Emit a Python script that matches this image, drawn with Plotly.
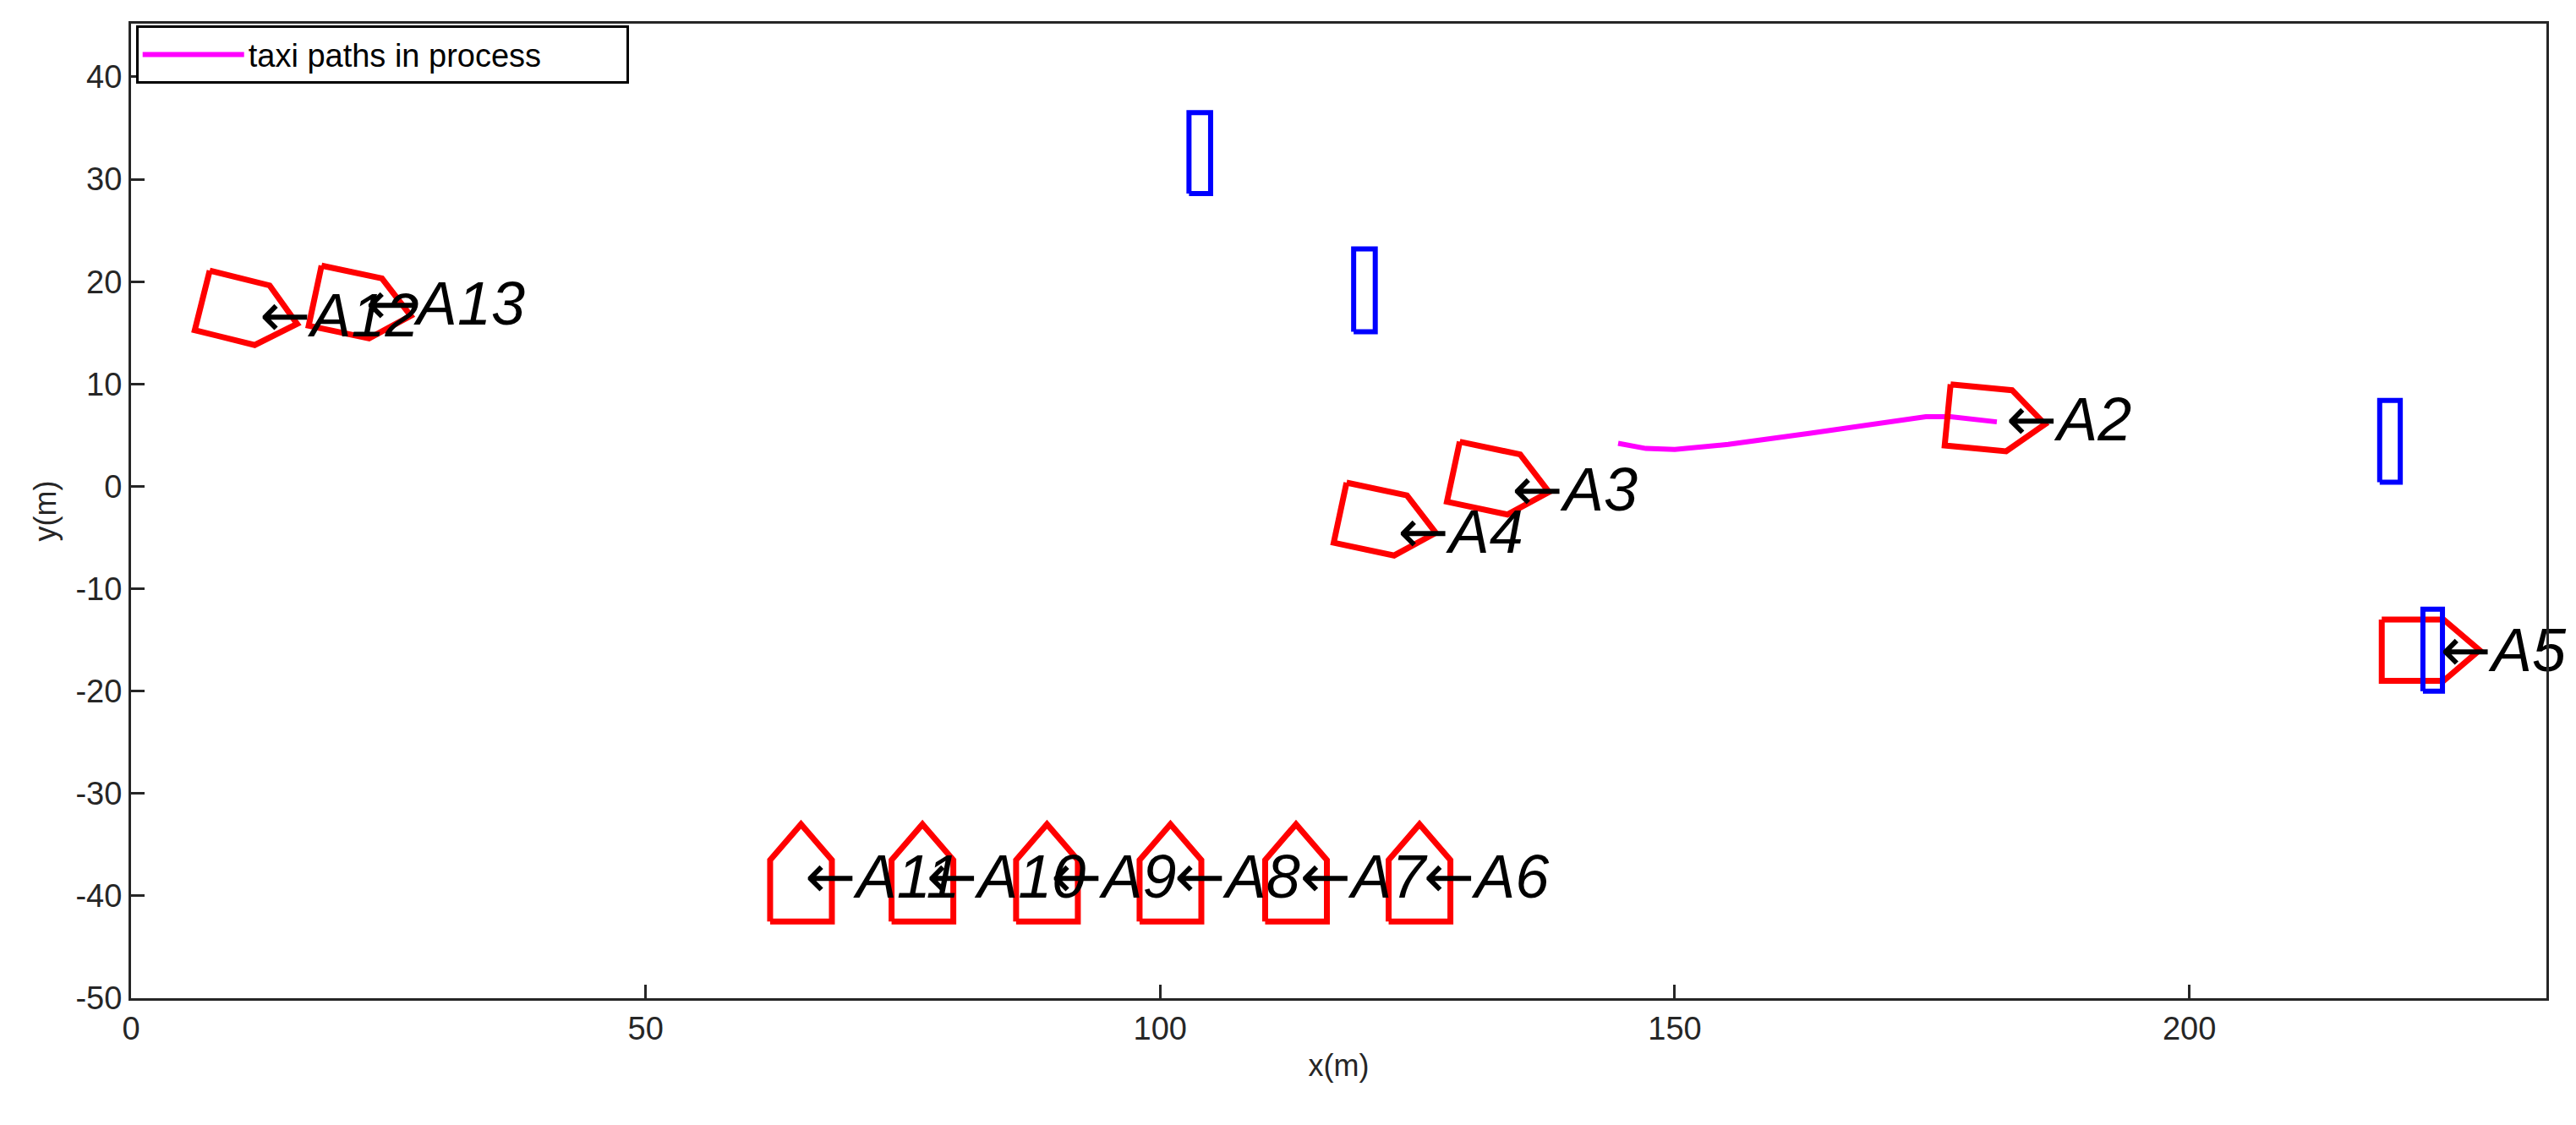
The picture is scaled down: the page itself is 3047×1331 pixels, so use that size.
import numpy as np
import plotly.graph_objects as go

# Aircraft (boat-shaped) markers: center, heading (deg), label point
names = ["A2", "A3", "A4", "A5", "A6", "A7", "A8", "A9", "A10", "A11", "A12", "A13"]
cx = [180.5, 132.4, 121.4, 222.7, 125.2, 113.2, 101.0, 89.0, 76.9, 65.1, 10.8, 21.8]
cy = [6.6, 0.6, -3.4, -16.0, -38.5, -38.5, -38.5, -38.5, -38.5, -38.5, 17.2, 17.8]
heading = [-5.5, -12, -12, 0, 90, 90, 90, 90, 90, 90, -14, -12]
lx = [182.2, 134.2, 123.1, 224.4, 125.6, 113.6, 101.4, 89.4, 77.3, 65.5, 12.5, 22.8]
ly = [6.0, -0.9, -5.0, -16.6, -38.7, -38.7, -38.7, -38.7, -38.7, -38.7, 16.1, 17.3]
# template along/perp coordinates
along = [-4, 2, 5.5, 2, -4, -4]
perp = [3, 3, 0, -3, -3, 3]

# obstacles (blue rectangles)
ox = [103.85, 119.85, 219.5, 223.65]
oy = [32.55, 19.15, 4.4, -16.0]
ow = [2.1, 2.1, 2.0, 1.9]
oh = [7.9, 8.1, 8.0, 8.0]

# taxi path
px = [144.5, 147.2, 150.0, 155.2, 163.2, 171.2, 174.4, 176.8, 179.2, 181.3]
py = [4.2, 3.7, 3.6, 4.1, 5.2, 6.3, 6.8, 6.8, 6.5, 6.3]

yticks = list(range(-50, 41, 10))
xticks = [0, 50, 100, 150, 200]

fig = go.Figure()
fig.add_trace(go.Scatter(x=px, y=py, mode="lines", line=dict(color="#ff00ff", width=6),
                         name="taxi paths in process" + "\u00a0" * 9, showlegend=True))
for i in range(len(names)):
    t = np.radians(heading[i])
    d = np.array([np.cos(t), np.sin(t)])
    n = np.array([-np.sin(t), np.cos(t)])
    xs = [cx[i] + a * d[0] + p * n[0] for a, p in zip(along, perp)]
    ys = [cy[i] + a * d[1] + p * n[1] for a, p in zip(along, perp)]
    fig.add_trace(go.Scatter(x=xs, y=ys, mode="lines", line=dict(color="#ff0000", width=7),
                             showlegend=False, hoverinfo="skip"))
for i in range(len(ox)):
    xs = [ox[i] - ow[i] / 2, ox[i] + ow[i] / 2, ox[i] + ow[i] / 2, ox[i] - ow[i] / 2, ox[i] - ow[i] / 2]
    ys = [oy[i] - oh[i] / 2, oy[i] - oh[i] / 2, oy[i] + oh[i] / 2, oy[i] + oh[i] / 2, oy[i] - oh[i] / 2]
    fig.add_trace(go.Scatter(x=xs, y=ys, mode="lines", line=dict(color="#0000ff", width=6),
                             showlegend=False, hoverinfo="skip"))
fig.add_trace(go.Scatter(x=lx, y=ly, mode="text",
                         text=["<span style='font-family:DejaVu Sans;font-size:72px'>←</span><i>" + s + "</i>" for s in names],
                         textposition="middle right", cliponaxis=False,
                         textfont=dict(family="Liberation Sans", size=72, color="black"),
                         showlegend=False))

axis = dict(showgrid=False, zeroline=False, showline=True, linecolor="#262626", linewidth=3,
            mirror=True, ticks="inside", ticklen=16, tickwidth=3, tickcolor="#262626",
            tickfont=dict(family="Liberation Sans", size=38, color="#262626"))
fig.update_layout(
    width=3047, height=1331, plot_bgcolor="white", paper_bgcolor="white",
    margin=dict(l=147, r=43, t=20, b=158),
    xaxis=dict(range=[0, 234.7], tickvals=xticks, ticktext=[str(v) for v in xticks],
               title=dict(text="x(m)", font=dict(family="Liberation Sans", size=36, color="#262626"), standoff=12), **axis),
    yaxis=dict(range=[-50, 45.2], tickvals=yticks, ticktext=[str(v) for v in yticks],
               title=dict(text="y(m)", font=dict(family="Liberation Sans", size=36, color="#262626"), standoff=12), **axis),
    legend=dict(x=0.002, y=0.998, xanchor="left", yanchor="top", bordercolor="black", borderwidth=3,
                bgcolor="white", font=dict(family="Liberation Sans", size=38, color="black"),
                itemwidth=120),
)
fig.write_html("out.html")
